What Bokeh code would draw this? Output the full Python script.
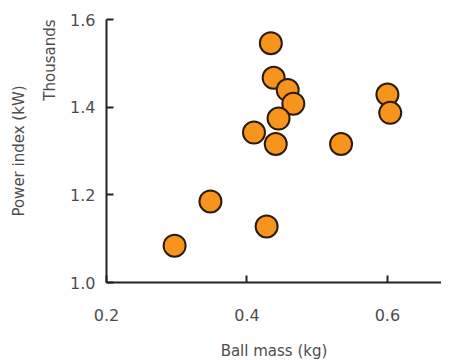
import math
from bokeh.plotting import figure
from bokeh.models import Range1d, FixedTicker, Title, NumeralTickFormatter
from bokeh.embed import file_html
from bokeh.resources import INLINE

ball_mass = [0.434, 0.438, 0.458, 0.466, 0.445, 0.410, 0.441, 0.534, 0.600, 0.604, 0.348, 0.428, 0.297]
power_index = [1.546, 1.467, 1.439, 1.408, 1.374, 1.342, 1.316, 1.316, 1.429, 1.387, 1.185, 1.128, 1.084]
x_ticks = [0.2, 0.4, 0.6]
y_ticks = [1.0, 1.2, 1.4, 1.6]

FONT = "DejaVu Sans"
TXT = "#4d4d4d"

p = figure(frame_width=335, frame_height=263, output_backend="svg", toolbar_location=None,
           x_range=Range1d(0.2, 0.677), y_range=Range1d(1.0, 1.6),
           min_border_left=106, min_border_right=0, min_border_top=19, min_border_bottom=60)
p.outline_line_color = None
p.grid.visible = False

p.scatter(ball_mass, power_index, size=22, fill_color="#F7941D", line_color="#2B1B0B", line_width=2)

for ax in (p.xaxis[0], p.yaxis[0]):
    ax.axis_line_color = "#222222"
    ax.axis_line_width = 2
    ax.major_tick_line_color = "#222222"
    ax.major_tick_line_width = 2
    ax.major_tick_in = 7
    ax.major_tick_out = 0
    ax.minor_tick_line_color = None
    ax.major_label_text_font = FONT
    ax.major_label_text_font_size = "16px"
    ax.major_label_text_color = TXT
    ax.axis_label_text_font = FONT
    ax.axis_label_text_font_style = "normal"
    ax.axis_label_text_color = TXT
    ax.axis_label_text_font_size = "15px"
    ax.formatter = NumeralTickFormatter(format="0.0")

p.xaxis[0].ticker = FixedTicker(ticks=x_ticks)
p.yaxis[0].ticker = FixedTicker(ticks=y_ticks)
p.xaxis[0].major_label_standoff = 26
p.yaxis[0].major_label_standoff = 11
p.xaxis[0].axis_label = "Ball mass (kg)"
p.xaxis[0].axis_label_standoff = 18

p.add_layout(Title(text="Thousands", align="right", text_font=FONT, text_font_size="15px",
                   text_font_style="normal", text_color=TXT, standoff=17), "left")
p.add_layout(Title(text="Power index (kW)", align="center", text_font=FONT, text_font_size="15px",
                   text_font_style="normal", text_color=TXT, standoff=5, offset=9), "left")

open("out.html", "w").write(file_html(p, INLINE))
